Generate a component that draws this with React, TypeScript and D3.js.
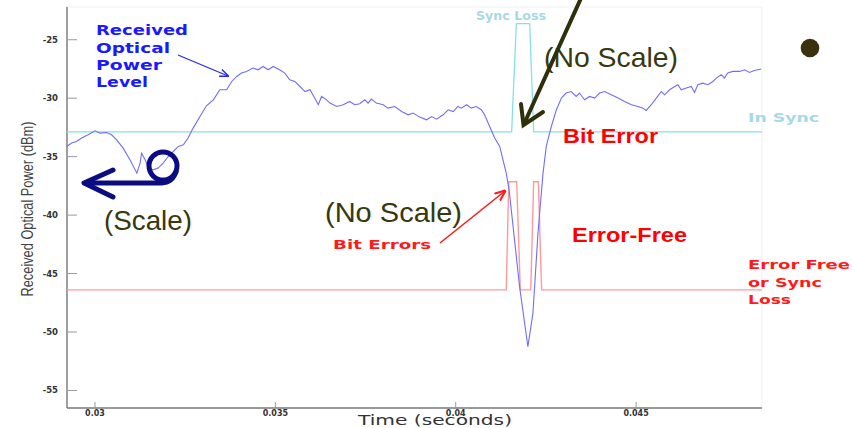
import React from 'react';
import * as d3 from 'd3';

// time (s) and received optical power (dBm)
const powerTime = [
  0.02922, 0.02935, 0.02949, 0.02963, 0.02981, 0.03, 0.03014, 0.03032, 0.03046, 0.0306,
  0.03078, 0.03097, 0.03116, 0.03125, 0.03129, 0.03139, 0.03148, 0.03161, 0.03175, 0.03189,
  0.03203, 0.03217, 0.03231, 0.03245, 0.03258, 0.03272, 0.03291, 0.03309, 0.03328, 0.03346,
  0.03365, 0.03379, 0.03393, 0.03406, 0.0342, 0.03438, 0.03452, 0.03466, 0.0348, 0.03494,
  0.03512, 0.03526, 0.0354, 0.03554, 0.03568, 0.03582, 0.03596, 0.03609, 0.03619, 0.03628,
  0.03642, 0.03651, 0.0367, 0.03688, 0.03706, 0.0372, 0.03734, 0.03748, 0.03757, 0.03766,
  0.0378, 0.03799, 0.03812, 0.03831, 0.0385, 0.03868, 0.03882, 0.039, 0.03919, 0.03933,
  0.03947, 0.03965, 0.03979, 0.03993, 0.04006, 0.04016, 0.0403, 0.04043, 0.04057, 0.04071,
  0.0408, 0.04094, 0.04108, 0.04122, 0.04131, 0.0414, 0.04148, 0.04177, 0.042, 0.04214,
  0.04228, 0.04242, 0.04251, 0.04265, 0.04279, 0.04293, 0.04306, 0.0432, 0.04334, 0.04343,
  0.04357, 0.04371, 0.04385, 0.04399, 0.04413, 0.04431, 0.0445, 0.04468, 0.04487, 0.04505,
  0.04519, 0.04528, 0.04542, 0.04556, 0.0457, 0.04579, 0.04593, 0.04607, 0.04616, 0.04625,
  0.04639, 0.04653, 0.04662, 0.04671, 0.04685, 0.04699, 0.04713, 0.04722, 0.04736, 0.04745,
  0.04754, 0.04768, 0.04787, 0.04801, 0.04814, 0.04828, 0.04847,
];
const powerDbm = [
  -34.13, -33.84, -33.71, -33.41, -33.13, -32.79, -32.99, -32.94, -33.13, -33.56,
  -34.27, -35.27, -36.41, -35.55, -34.7, -35.27, -35.98, -36.13, -35.98, -35.55,
  -34.99, -34.56, -34.13, -33.99, -33.41, -32.56, -31.57, -30.65, -30.14, -29.28,
  -29.28, -28.57, -28.14, -27.85, -27.71, -27.42, -27.57, -27.29, -27.57, -27.29,
  -27.57, -27.85, -28.42, -28.57, -29.0, -29.43, -29.28, -29.99, -30.56, -29.85,
  -30.14, -30.42, -30.71, -30.56, -30.28, -30.56, -30.48, -30.14, -30.42, -30.08,
  -30.42, -30.56, -30.85, -30.71, -31.14, -31.42, -31.27, -31.62, -31.85, -31.57,
  -31.79, -31.42, -30.99, -31.14, -30.71, -30.85, -30.56, -30.85, -30.71, -30.99,
  -31.42, -32.42, -33.41, -34.13, -35.27, -36.41, -37.84, -46.12, -51.25, -48.39,
  -41.55, -36.41, -34.13, -32.42, -30.99, -29.99, -29.56, -29.43, -29.85, -29.56,
  -30.14, -29.85, -29.99, -29.56, -29.43, -29.71, -29.99, -30.28, -30.56, -30.71,
  -30.85, -31.05, -30.56, -29.99, -29.43, -29.71, -29.28, -29.0, -28.85, -29.28,
  -29.13, -29.0, -29.51, -28.85, -28.71, -28.85, -28.57, -28.28, -28.0, -28.28,
  -27.85, -27.71, -27.71, -27.57, -27.8, -27.63, -27.51,
];

// sync indicator (no scale): in sync level / sync loss level
const syncTime = [0.02922, 0.0378, 0.04155, 0.04168, 0.04205, 0.04216, 0.04849];
const syncLevel = [-32.88, -32.88, -32.88, -23.63, -23.63, -32.88, -32.88];

// bit error indicator (no scale)
const errTime = [0.02922, 0.0414, 0.04147, 0.04169, 0.04179, 0.04208, 0.04216, 0.04229, 0.04238, 0.04849];
const errLevel = [-46.4, -46.4, -37.15, -37.15, -46.4, -46.4, -37.15, -37.15, -46.4, -46.4];

const yTicks = [-55, -50, -45, -40, -35, -30, -25];
const xTicks = [0.03, 0.035, 0.04, 0.045];
const xTickLabels = ['0.03', '0.035', '0.04', '0.045'];

const W = 852;
const H = 428;
const plot = { left: 67, right: 762, top: 7, bottom: 408 };

export default function App() {
  const x = d3.scaleLinear().domain([0.029224, 0.04849]).range([plot.left, plot.right]);
  const y = d3.scaleLinear().domain([-56.5, -22.2]).range([plot.bottom, plot.top]);

  const line = d3
    .line<[number, number]>()
    .x(d => x(d[0]))
    .y(d => y(d[1]));

  const power = powerTime.map((t, i) => [t, powerDbm[i]] as [number, number]);
  const sync = syncTime.map((t, i) => [t, syncLevel[i]] as [number, number]);
  const errs = errTime.map((t, i) => [t, errLevel[i]] as [number, number]);

  const bold = { fontFamily: 'DejaVu Sans', fontWeight: 'bold' as const };
  const arial = { fontFamily: 'Liberation Sans' };
  const olive = '#38380f';

  return (
    <svg
      width={W}
      height={H}
      style={{ position: 'absolute', left: 0, top: 0, background: '#fff' }}
    >
      <defs>
        <marker id="headBlue" viewBox="0 0 10 10" refX="9" refY="5" markerWidth="7" markerHeight="7" orient="auto">
          <path d="M0,1 L10,5 L0,9" fill="none" stroke="#2a2aee" strokeWidth="1.6" />
        </marker>
        <marker id="headRed" viewBox="0 0 10 10" refX="9" refY="5" markerWidth="7" markerHeight="7" orient="auto">
          <path d="M0,1 L10,5 L0,9" fill="none" stroke="#ff1a1a" strokeWidth="1.8" />
        </marker>
      </defs>

      {/* frame */}
      <rect
        x={plot.left}
        y={plot.top}
        width={plot.right - plot.left}
        height={plot.bottom - plot.top}
        fill="none"
        stroke="#f1f1f1"
      />
      <line x1={plot.left} x2={plot.left} y1={plot.top} y2={plot.bottom} stroke="#6e6e6e" strokeWidth={1.3} />
      <line x1={plot.left} x2={plot.right} y1={plot.bottom} y2={plot.bottom} stroke="#7a7a7a" strokeWidth={1.3} />

      {/* y ticks */}
      {yTicks.map(v => (
        <g key={v} transform={`translate(0,${y(v)})`}>
          <line x1={plot.left} x2={plot.left + 10} stroke="#999" />
          <text x={58} dy="0.35em" textAnchor="end" fontSize={8.5} fill="#333" {...bold}>
            {v}
          </text>
        </g>
      ))}

      {/* x ticks */}
      {xTicks.map((v, i) => (
        <g key={v} transform={`translate(${x(v)},0)`}>
          <line y1={plot.bottom} y2={plot.bottom - 6} stroke="#999" />
          <text y={415.5} textAnchor="middle" fontSize={8} fill="#333" {...bold}>
            {xTickLabels[i]}
          </text>
        </g>
      ))}

      {/* axis titles */}
      <text x={435} y={425} textAnchor="middle" fontSize={14} fill="#333" fontFamily="DejaVu Sans" textLength={154} lengthAdjust="spacingAndGlyphs">
        Time (seconds)
      </text>
      <text
        transform="translate(33,209) rotate(-90)"
        textAnchor="middle"
        fontSize={16}
        fill="#444"
        fontFamily="Liberation Sans"
        textLength={175}
        lengthAdjust="spacingAndGlyphs"
      >
        Received Optical Power (dBm)
      </text>

      {/* series */}
      <path d={line(sync) ?? ''} fill="none" stroke="#86e0e8" strokeWidth={1.3} />
      <path d={line(errs) ?? ''} fill="none" stroke="#ff9a9a" strokeWidth={1.4} />
      <path d={line(power) ?? ''} fill="none" stroke="#6f6ff6" strokeWidth={1.1} />

      {/* annotations */}
      <g fill="#1a1aff" fontSize={14} {...bold}>
        <text x={96} y={35} textLength={92} lengthAdjust="spacingAndGlyphs">Received</text>
        <text x={96} y={53} textLength={74} lengthAdjust="spacingAndGlyphs">Optical</text>
        <text x={96} y={70} textLength={66} lengthAdjust="spacingAndGlyphs">Power</text>
        <text x={96} y={87} textLength={52} lengthAdjust="spacingAndGlyphs">Level</text>
      </g>
      <line x1={178} y1={55} x2={228} y2={76} stroke="#2a2aee" strokeWidth={1.3} markerEnd="url(#headBlue)" />

      <text x={476} y={20} fontSize={13} fill="#a6d9e6" textLength={70} lengthAdjust="spacingAndGlyphs" {...bold}>
        Sync Loss
      </text>
      <text x={748} y={122} fontSize={13} fill="#a6d9e6" textLength={71} lengthAdjust="spacingAndGlyphs" {...bold}>
        In Sync
      </text>

      <text x={563} y={143} fontSize={21} fill="#ff0000" fontWeight="bold" textLength={95} lengthAdjust="spacingAndGlyphs" {...arial}>
        Bit Error
      </text>
      <text x={572} y={242} fontSize={21} fill="#ff0000" fontWeight="bold" textLength={115} lengthAdjust="spacingAndGlyphs" {...arial}>
        Error-Free
      </text>

      <g fill="#ff1a1a" fontSize={13} {...bold}>
        <text x={748} y={269} textLength={102} lengthAdjust="spacingAndGlyphs">Error Free</text>
        <text x={748} y={287} textLength={74} lengthAdjust="spacingAndGlyphs">or Sync</text>
        <text x={748} y={304} textLength={43} lengthAdjust="spacingAndGlyphs">Loss</text>
      </g>
      <text x={333} y={249} fontSize={12} fill="#ff1a1a" textLength={98} lengthAdjust="spacingAndGlyphs" {...bold}>
        Bit Errors
      </text>
      <line x1={440} y1={243} x2={505} y2={191} stroke="#ff1a1a" strokeWidth={1.6} markerEnd="url(#headRed)" />

      <g fill={olive} fontSize={28} {...arial}>
        <text x={325} y={222} textLength={137} lengthAdjust="spacingAndGlyphs">(No Scale)</text>
        <text x={544} y={67} textLength={134} lengthAdjust="spacingAndGlyphs">(No Scale)</text>
        <text x={104} y={230} textLength={88} lengthAdjust="spacingAndGlyphs">(Scale)</text>
      </g>

      {/* heavy olive arrow from top */}
      <g stroke="#2f2f0c" strokeWidth={4} fill="none" strokeLinecap="round">
        <line x1={582} y1={-4} x2={524} y2={124} />
        <polyline points="521,104 523.5,125 543,112" strokeLinejoin="miter" />
      </g>

      {/* navy looped arrow */}
      <g stroke="#0c0c82" strokeWidth={5} fill="none" strokeLinecap="round">
        <circle cx={163} cy={166} r={14} />
        <path d="M176,172 C172,182 166,183 158,183 L86,183" />
        <polyline points="113,170 84,183 113,197" strokeLinejoin="round" />
      </g>

      {/* bullet */}
      <circle cx={810} cy={48} r={9.3} fill="#3a320f" />
    </svg>
  );
}
